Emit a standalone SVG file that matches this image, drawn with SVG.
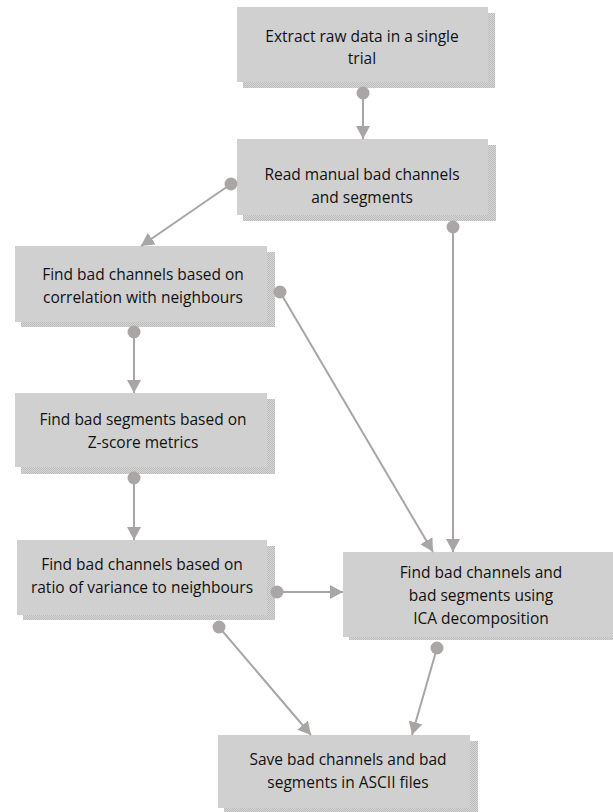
<svg xmlns="http://www.w3.org/2000/svg" width="613" height="812" viewBox="0 0 613 812">
<style>
.box{fill:#d0d0d0}
.sh{fill:url(#hatch)}
.t{font-family:"Open Sans","Noto Sans",sans-serif;font-size:15.5px;fill:#111;text-anchor:middle}
.c{stroke:#a9a5a5;stroke-width:2;fill:none;marker-end:url(#arr)}
.d{fill:#aaa6a6}
</style>
<defs>
<pattern id="hatch" width="2" height="2" patternUnits="userSpaceOnUse">
<rect width="2" height="2" fill="#d6d6d6"/>
<rect width="1" height="1" fill="#bcbcbc"/>
<rect x="1" y="1" width="1" height="1" fill="#bcbcbc"/>
</pattern>
<marker id="arr" markerUnits="userSpaceOnUse" markerWidth="14" markerHeight="14" refX="13" refY="7" orient="auto">
<path d="M0,0 L13,7 L0,14 Z" fill="#a9a5a5"/>
</marker>
</defs>
<rect width="613" height="812" fill="#fff"/>

<g id="n1"><rect class="sh" x="243" y="13" width="252" height="75"/><rect class="box" x="237" y="7" width="251" height="75"/>
<text class="t" x="362" y="42">Extract raw data in a single</text><text class="t" x="362" y="64">trial</text></g>

<g id="n2"><rect class="sh" x="243" y="145" width="253" height="76"/><rect class="box" x="237" y="139" width="251" height="76"/>
<text class="t" x="362" y="180">Read manual bad channels</text><text class="t" x="362" y="203">and segments</text></g>

<g id="n3"><rect class="sh" x="21" y="252" width="254" height="75"/><rect class="box" x="15" y="246" width="252" height="76"/>
<text class="t" x="143" y="280">Find bad channels based on</text><text class="t" x="143" y="303">correlation with neighbours</text></g>

<g id="n4"><rect class="sh" x="21" y="399" width="254" height="75"/><rect class="box" x="15" y="393" width="252" height="74"/>
<text class="t" x="143" y="425">Find bad segments based on</text><text class="t" x="143" y="448">Z-score metrics</text></g>

<g id="n5"><rect class="sh" x="23" y="546" width="252" height="74"/><rect class="box" x="17" y="540" width="250" height="75"/>
<text class="t" x="142" y="570">Find bad channels based on</text><text class="t" x="142" y="593">ratio of variance to neighbours</text></g>

<g id="n6"><rect class="sh" x="349" y="558" width="280" height="82"/><rect class="box" x="343" y="552" width="280" height="85"/>
<text class="t" x="481" y="578">Find bad channels and</text><text class="t" x="481" y="601">bad segments using</text><text class="t" x="481" y="624">ICA decomposition</text></g>

<g id="n7"><rect class="sh" x="224" y="741" width="254" height="71"/><rect class="box" x="218" y="735" width="252" height="73"/>
<text class="t" x="348" y="765">Save bad channels and bad</text><text class="t" x="348" y="788">segments in ASCII files</text></g>

<g id="connectors">
<path class="c" d="M363,93 L363,139"/><circle class="d" cx="363" cy="93" r="6.5"/>
<path class="c" d="M231,184 L141,246"/><circle class="d" cx="231" cy="184" r="6.5"/>
<path class="c" d="M134,332 L134,393"/><circle class="d" cx="134" cy="332" r="6.5"/>
<path class="c" d="M134,478 L134,540"/><circle class="d" cx="134" cy="478" r="6.5"/>
<path class="c" d="M277,592 L343,592"/><circle class="d" cx="277" cy="592" r="6.5"/>
<path class="c" d="M280,292 L433,552"/><circle class="d" cx="280" cy="292" r="6.5"/>
<path class="c" d="M453,227 L453,552"/><circle class="d" cx="453" cy="227" r="6.5"/>
<path class="c" d="M219,627 L311,735"/><circle class="d" cx="219" cy="627" r="6.5"/>
<path class="c" d="M437,648 L412,735"/><circle class="d" cx="437" cy="648" r="6.5"/>
</g>
</svg>
